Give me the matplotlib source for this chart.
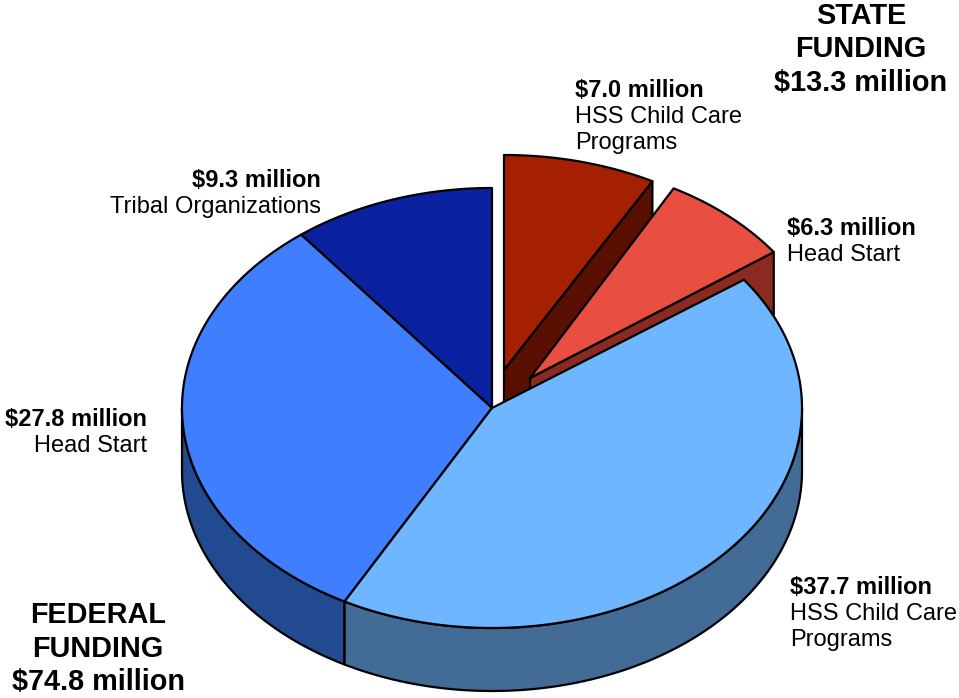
import numpy as np
import matplotlib
matplotlib.use("Agg")
import matplotlib.pyplot as plt
from matplotlib.patches import Polygon

plt.rcParams['font.family'] = ['Liberation Sans', 'DejaVu Sans']

# Data ($ million), counter-clockwise from twelve o'clock
slice_names = ["Tribal Organizations", "Head Start", "HSS Child Care\nPrograms",
               "Head Start", "HSS Child Care\nPrograms"]
slice_values = [9.3, 27.8, 37.7, 6.3, 7.0]

top_colors = ["#0A22A0", "#3F7FFF", "#6EB6FF", "#E94F40", "#A42000"]
side_colors = [None, "#214A90", "#426B96", "#8A2A20", "#5A1000"]

# Geometry per slice (figure pixels)
centers = [(492, 408), (492, 408), (492, 408), (530, 378), (504, 370)]
radii = [(310, 220), (310, 220), (310, 220), (300, 216), (310, 215)]
DEPTH = 63
LW = 1.6

fig = plt.figure(figsize=(9.59, 6.98), dpi=100)
ax = fig.add_axes([0, 0, 1, 1])
ax.set_xlim(0, 959)
ax.set_ylim(698, 0)
ax.axis("off")

angles = 90 + np.cumsum([0] + slice_values) / sum(slice_values) * 360


def arc(i, a0, a1, dy=0):
    t = np.radians(np.linspace(a0, a1, 200))
    cx, cy = centers[i]
    rx, ry = radii[i]
    return np.column_stack([cx + rx * np.cos(t), cy - ry * np.sin(t) + dy])


def poly(pts, color, z):
    ax.add_patch(Polygon(pts, closed=True, facecolor=color, edgecolor="black",
                         linewidth=LW, joinstyle="round", zorder=z))


def top(i, z):
    poly(np.vstack([[centers[i]], arc(i, angles[i], angles[i + 1])]), top_colors[i], z)


def outer_side(i, a0, a1, z):
    poly(np.vstack([arc(i, a0, a1), arc(i, a1, a0, DEPTH)]), side_colors[i], z)


def cut_side(i, a, z):
    edge = arc(i, a, a)[0]
    c = np.array(centers[i], float)
    d = np.array([0, DEPTH])
    poly([c, edge, edge + d, c + d], side_colors[i], z)


# State slices (behind), drawn back to front
cut_side(4, angles[4], 1)
top(4, 2)
cut_side(3, angles[3], 3)
top(3, 4)

# Federal slices
outer_side(1, 180, angles[2], 5)
outer_side(2, angles[2], 360, 5)
top(0, 6)
top(1, 6)
top(2, 7)

SMALL = 17
BIG = 20.8


def label(x, y, value, name, ha):
    ax.text(x, y, f"${value:.1f} million", fontsize=SMALL, fontweight="bold",
            ha=ha, va="baseline", zorder=10)
    for k, line in enumerate(name.split("\n")):
        ax.text(x, y + 26 + k * 26, line, fontsize=SMALL, ha=ha, va="baseline", zorder=10)


label(321, 187, slice_values[0], slice_names[0], "right")
label(147, 426, slice_values[1], slice_names[1], "right")
label(790, 594, slice_values[2], slice_names[2], "left")
label(787, 235, slice_values[3], slice_names[3], "left")
label(575, 97, slice_values[4], slice_names[4], "left")

state_total = slice_values[3] + slice_values[4]
federal_total = slice_values[0] + slice_values[1] + slice_values[2]
for x, ys, lines in [
    (861, (24, 57, 91), ["STATE", "FUNDING", f"${state_total:.1f} million"]),
    (98, (623, 657, 690), ["FEDERAL", "FUNDING", f"${federal_total:.1f} million"]),
]:
    for y, s in zip(ys, lines):
        ax.text(x, y, s, fontsize=BIG, fontweight="bold", ha="center", va="baseline", zorder=10)

fig.savefig("out.png", dpi=100)
